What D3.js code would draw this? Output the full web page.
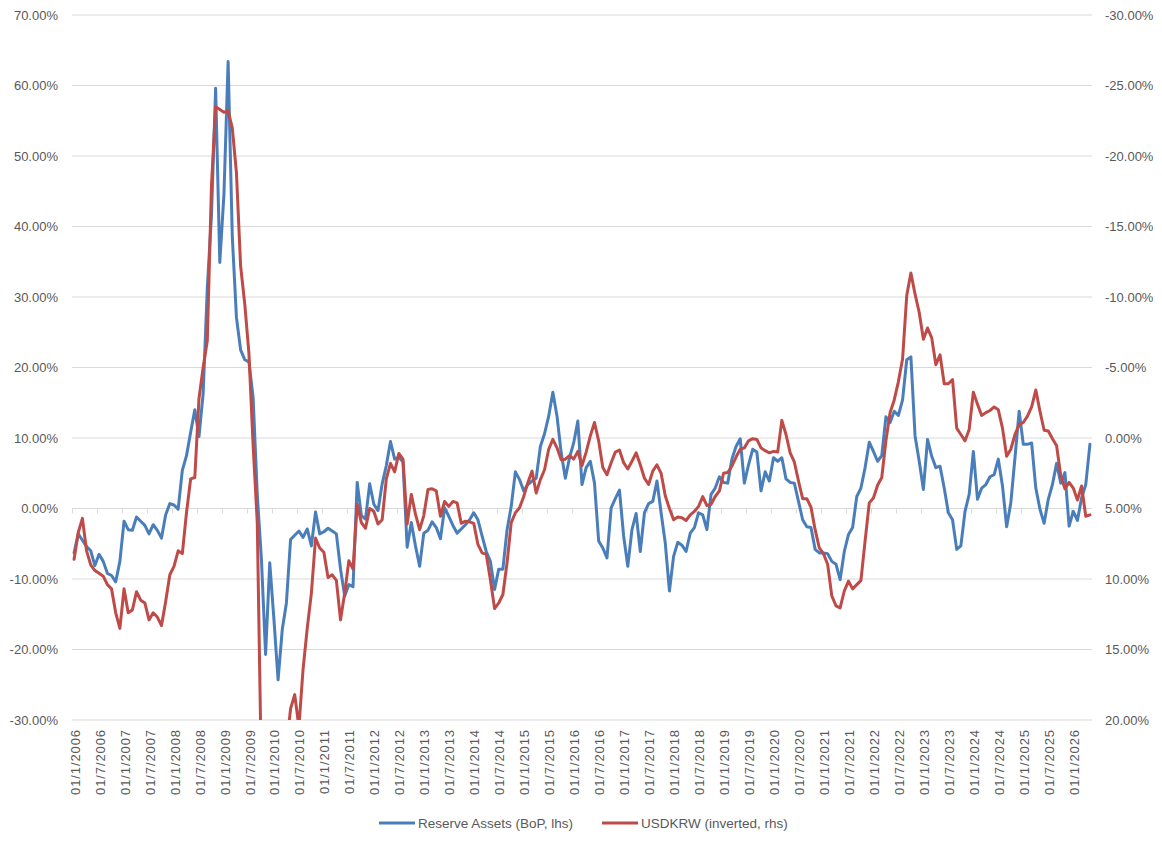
<!DOCTYPE html>
<html>
<head>
<meta charset="utf-8">
<script src="https://cdn.jsdelivr.net/npm/d3@7/dist/d3.min.js"></script>
<style>
  body { margin: 0; background: #fff; }
  #chart text { font-family: "Liberation Sans", Arial, sans-serif; fill: #595959; }
</style>
</head>
<body>
<div id="chart"></div>
<script>
const startYear = 2006;
const monthCount = 245;

const reserveAssets = [
  -6.3, -3.6, -4.5, -5.4, -6.0, -8.1, -6.5, -7.5, -9.2, -9.5, -10.4, -7.5,
  -1.8, -3.0, -3.1, -1.2, -1.8, -2.4, -3.6, -2.3, -3.1, -4.2, -0.9, 0.7,
  0.5, -0.1, 5.4, 7.5, 10.8, 14.0, 10.2, 16.3, 31.3, 41.6, 59.6, 34.9,
  44.6, 63.4, 38.6, 27.1, 22.5, 21.1, 20.8, 15.8, 2.0, -7.2, -20.7, -7.7,
  -15.7, -24.3, -17.2, -13.4, -4.4, -3.8, -3.2, -4.1, -2.9, -5.3, -0.5, -3.6,
  -3.3, -2.8, -3.2, -3.6, -8.6, -12.4, -10.8, -11.1, 3.7, -1.0, -1.5, 3.5,
  0.6, -0.3, 3.5, 6.1, 9.5, 7.0, 7.3, 6.6, -5.5, -2.0, -5.3, -8.2,
  -3.5, -3.1, -1.9, -2.7, -4.3, 0.1, -1.1, -2.4, -3.5, -2.9, -2.3, -1.6,
  -0.6, -1.6, -3.9, -6.1, -7.5, -11.5, -8.6, -8.6, -3.0, 0.3, 5.2, 4.1,
  2.5, 3.4, 3.9, 4.3, 8.8, 10.6, 13.1, 16.5, 13.1, 7.9, 4.3, 7.2,
  9.3, 12.4, 3.4, 5.8, 6.7, 3.6, -4.6, -5.6, -7.0, 0.1, 1.4, 2.6,
  -3.9, -8.2, -3.0, -0.7, -6.1, -0.6, 0.7, 1.0, 3.9, -0.6, -4.9, -11.7,
  -6.8, -4.8, -5.2, -6.1, -3.5, -2.7, -0.6, -0.9, -3.0, 2.0, 2.9, 4.5,
  3.7, 3.6, 7.0, 8.8, 9.9, 3.6, 6.2, 8.4, 8.0, 2.5, 5.2, 3.9,
  7.2, 6.7, 7.2, 4.2, 3.7, 3.6, 1.0, -1.6, -2.6, -2.7, -5.8, -6.3,
  -6.3, -6.4, -7.5, -7.9, -10.1, -6.1, -3.7, -2.7, 1.7, 2.9, 5.8, 9.4,
  8.1, 6.7, 7.5, 13.0, 12.2, 13.8, 13.2, 15.4, 21.1, 21.5, 10.3, 6.7,
  2.7, 9.8, 7.4, 5.8, 6.0, 2.9, -0.6, -1.6, -5.8, -5.3, -0.4, 2.0,
  8.1, 1.3, 2.9, 3.4, 4.5, 4.8, 7.0, 3.2, -2.6, 0.8, 7.2, 13.8,
  9.1, 9.1, 9.3, 2.9, -0.1, -2.1, 1.3, 3.4, 6.4, 3.6, 5.1, -2.5,
  -0.4, -1.7, 1.5, 3.4, 9.1
];

const usdkrw = [
  8.6, 6.7, 5.7, 8.0, 9.0, 9.4, 9.6, 9.8, 10.4, 10.7, 12.4, 13.5,
  10.7, 12.4, 12.2, 10.9, 11.5, 11.7, 12.9, 12.4, 12.7, 13.3, 11.6, 9.7,
  9.1, 8.0, 8.2, 5.3, 2.9, 2.8, -2.8, -5.0, -6.9, -17.9, -23.5, -23.3,
  -23.1, -23.2, -22.0, -18.8, -12.2, -9.5, -6.0, 0.5, 6.0, 24.0, 30.0, 33.0,
  34.0, 31.0, 27.0, 22.0, 19.2, 18.2, 20.5, 16.4, 13.5, 11.0, 7.1, 7.8,
  8.1, 9.9, 9.7, 10.1, 12.9, 11.0, 8.7, 9.3, 4.7, 6.0, 6.4, 5.0,
  5.2, 6.1, 5.8, 2.9, 1.8, 2.4, 1.1, 1.5, 6.1, 4.0, 5.4, 6.5,
  5.5, 3.65, 3.6, 3.75, 5.55, 4.5, 4.85, 4.5, 4.6, 6.05, 5.9, 5.95,
  6.05, 7.55, 8.15, 8.25, 10.05, 12.1, 11.7, 11.1, 8.85, 6.0, 5.3, 4.95,
  4.15, 3.15, 2.35, 3.9, 2.95, 2.25, 0.8, 0.1, 0.7, 1.55, 1.5, 1.25,
  1.5, 0.95, 1.95, 1.0, -0.15, -1.1, 0.2, 2.1, 2.6, 1.75, 1.0, 0.85,
  1.75, 2.2, 1.65, 1.05, 1.9, 2.85, 3.3, 2.35, 1.9, 2.5, 4.1, 5.0,
  5.8, 5.6, 5.65, 5.85, 5.45, 5.2, 4.85, 4.15, 4.8, 4.7, 4.15, 3.75,
  2.5, 2.45, 2.0, 1.35, 0.8, 0.7, 0.2, 0.05, 0.1, 0.7, 0.9, 1.05,
  0.95, 1.0, -1.25, -0.25, 1.05, 1.7, 3.05, 4.3, 4.3, 4.9, 6.5, 7.8,
  8.2, 8.95, 11.2, 11.9, 12.05, 10.85, 10.15, 10.7, 10.4, 10.1, 7.3, 4.6,
  4.25, 3.35, 2.8, 0.2, -1.8, -2.7, -4.0, -5.6, -10.1, -11.7, -10.2, -8.9,
  -7.0, -7.8, -7.1, -5.2, -5.9, -3.85, -3.85, -4.15, -0.7, -0.25, 0.2, -0.6,
  -3.25, -2.4, -1.6, -1.8, -1.95, -2.2, -2.0, -0.7, 1.3, 0.8, -0.25, -0.95,
  -1.1, -1.55, -2.2, -3.4, -1.9, -0.55, -0.5, 0.05, 0.55, 2.7, 3.6, 3.15,
  3.55, 4.4, 3.4, 5.55, 5.45
];

const tickLabels = [
  "01/1/2006", "01/7/2006", "01/1/2007", "01/7/2007", "01/1/2008", "01/7/2008",
  "01/1/2009", "01/7/2009", "01/1/2010", "01/7/2010", "01/1/2011", "01/7/2011",
  "01/1/2012", "01/7/2012", "01/1/2013", "01/7/2013", "01/1/2014", "01/7/2014",
  "01/1/2015", "01/7/2015", "01/1/2016", "01/7/2016", "01/1/2017", "01/7/2017",
  "01/1/2018", "01/7/2018", "01/1/2019", "01/7/2019", "01/1/2020", "01/7/2020",
  "01/1/2021", "01/7/2021", "01/1/2022", "01/7/2022", "01/1/2023", "01/7/2023",
  "01/1/2024", "01/7/2024", "01/1/2025", "01/7/2025", "01/1/2026"
];

const leftTicks = [-30, -20, -10, 0, 10, 20, 30, 40, 50, 60, 70];
const rightTicks = [-30, -25, -20, -15, -10, -5, 0, 5, 10, 15, 20];

const seriesNames = ["Reserve Assets (BoP, lhs)", "USDKRW (inverted, rhs)"];
const colors = ["#4a7ebb", "#be4b48"];

// category labels, one per month
const categories = [];
for (let i = 0; i < monthCount; i++) {
  const y = startYear + Math.floor(i / 12);
  categories.push("01/" + (i % 12 + 1) + "/" + y);
}

drawChart('#chart');

function drawChart(el) {
  const pageWidth = 1162;
  const pageHeight = 847;
  const left = 72, right = 1092, top = 15, bottom = 720;
  // plain hyphen for negatives, like the original
  const fmt = v => v.toFixed(2) + "%";

  const svg = d3.select(el).append("svg")
    .attr("width", pageWidth)
    .attr("height", pageHeight);

  const x = d3.scaleBand().domain(categories).range([left, right]).padding(0);
  const yL = d3.scaleLinear().domain([-30, 70]).range([bottom, top]);
  const yR = d3.scaleLinear().domain([20, -30]).range([bottom, top]);

  // gridlines
  svg.append("g").selectAll("line")
    .data(leftTicks)
    .enter().append("line")
    .attr("x1", left).attr("x2", right)
    .attr("y1", d => yL(d)).attr("y2", d => yL(d))
    .attr("stroke", "#d9d9d9").attr("stroke-width", 1);

  // left axis
  svg.append("g")
    .attr("transform", "translate(" + left + ",0)")
    .call(d3.axisLeft(yL).tickValues(leftTicks).tickFormat(fmt).tickSize(0).tickPadding(14))
    .call(g => g.select(".domain").remove())
    .selectAll("text").style("font-size", "13px");

  // right axis
  svg.append("g")
    .attr("transform", "translate(" + right + ",0)")
    .call(d3.axisRight(yR).tickValues(rightTicks).tickFormat(fmt).tickSize(0).tickPadding(13))
    .call(g => g.select(".domain").remove())
    .selectAll("text").style("font-size", "13px");

  // horizontal axis line at 0 with ticks every 6 months
  const xAxisLine = svg.append("g");
  xAxisLine.append("line")
    .attr("x1", left).attr("x2", right)
    .attr("y1", yL(0)).attr("y2", yL(0))
    .attr("stroke", "#d9d9d9");
  xAxisLine.selectAll(".tk")
    .data(tickLabels)
    .enter().append("line")
    .attr("class", "tk")
    .attr("x1", d => Math.round(x(d)) + 0.5)
    .attr("x2", d => Math.round(x(d)) + 0.5)
    .attr("y1", yL(0)).attr("y2", yL(0) + 5)
    .attr("stroke", "#d9d9d9");

  // category labels at the bottom
  svg.append("g").selectAll("text")
    .data(tickLabels)
    .enter().append("text")
    .attr("transform", d => "translate(" + (x(d) + x.bandwidth() / 2 + 1) + "," + (bottom + 9) + ") rotate(-90)")
    .attr("dy", "0.35em")
    .attr("text-anchor", "end")
    .style("font-size", "13px")
    .style("letter-spacing", "0.9px")
    .text(d => d);

  // lines
  svg.append("clipPath").attr("id", "plot-clip")
    .append("rect")
    .attr("x", left).attr("y", top)
    .attr("width", right - left).attr("height", bottom - top);

  const cx = (d, i) => x(categories[i]) + x.bandwidth() / 2;
  const lineL = d3.line().x(cx).y(d => yL(d));
  const lineR = d3.line().x(cx).y(d => yR(d));

  const plot = svg.append("g").attr("clip-path", "url(#plot-clip)");
  plot.append("path")
    .datum(reserveAssets)
    .attr("d", lineL)
    .attr("fill", "none")
    .attr("stroke", colors[0])
    .attr("stroke-width", 3)
    .attr("stroke-linejoin", "round")
    .attr("stroke-linecap", "round");
  plot.append("path")
    .datum(usdkrw)
    .attr("d", lineR)
    .attr("fill", "none")
    .attr("stroke", colors[1])
    .attr("stroke-width", 3)
    .attr("stroke-linejoin", "round")
    .attr("stroke-linecap", "round");

  // legend
  const legendX = [379, 602];
  const legend = svg.append("g").selectAll("g")
    .data(seriesNames)
    .enter().append("g")
    .attr("transform", (d, i) => "translate(" + legendX[i] + ",823)");
  legend.append("line")
    .attr("x1", 0).attr("x2", 36)
    .attr("stroke", (d, i) => colors[i])
    .attr("stroke-width", 3);
  legend.append("text")
    .attr("x", 39)
    .attr("dy", "0.35em")
    .style("font-size", "13.5px")
    .text(d => d);
}
</script>
</body>
</html>
